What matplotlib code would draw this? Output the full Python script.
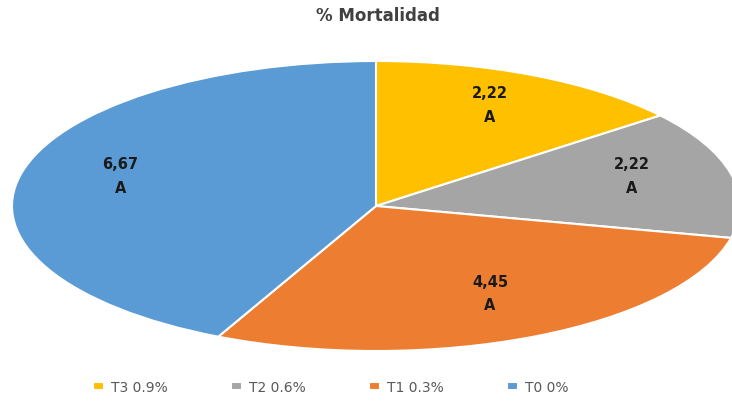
import numpy as np
import matplotlib.pyplot as plt

categories = ["T3 0.9%", "T2 0.6%", "T1 0.3%", "T0 0%"]
values = [2.22, 2.22, 4.45, 6.67]
value_labels = ["2,22\nA", "2,22\nA", "4,45\nA", "6,67\nA"]
colors = ["#FFC000", "#A5A5A5", "#ED7D31", "#5B9BD5"]

plt.rcParams['font.family'] = ['DejaVu Sans']

fig = plt.figure(figsize=(7.32, 4.02), dpi=100)
# the pie is stretched horizontally, so the axes keep an auto aspect
ax = fig.add_axes([12 / 732, 50 / 402, 728 / 732, 290 / 402])
wedges, _ = ax.pie(values, colors=colors, startangle=90, counterclock=False,
                   wedgeprops=dict(edgecolor='white', linewidth=1.5))
ax.set_aspect('auto')
ax.set_xlim(-1, 1)
ax.set_ylim(-1, 1)
for w in wedges:
    w.set_clip_on(False)

for w, lab in zip(wedges, value_labels):
    mid = np.deg2rad((w.theta1 + w.theta2) / 2)
    ax.text(0.72 * np.cos(mid), 0.72 * np.sin(mid) + 0.05, lab, ha='center', va='center',
            fontsize=10.5, fontweight='bold', color='#1a1a1a', linespacing=1.7)

fig.text(0.516, 0.96, "% Mortalidad", ha='center', va='center',
         fontsize=12, fontweight='bold', color='#404040')

fig.legend(wedges, categories, loc='center', bbox_to_anchor=(0.452, 0.035), ncol=4,
           frameon=False, fontsize=10, handlelength=0.8, handleheight=0.5,
           columnspacing=4.55, handletextpad=0.5, labelcolor='#595959')

fig.savefig('out.png', dpi=100)
